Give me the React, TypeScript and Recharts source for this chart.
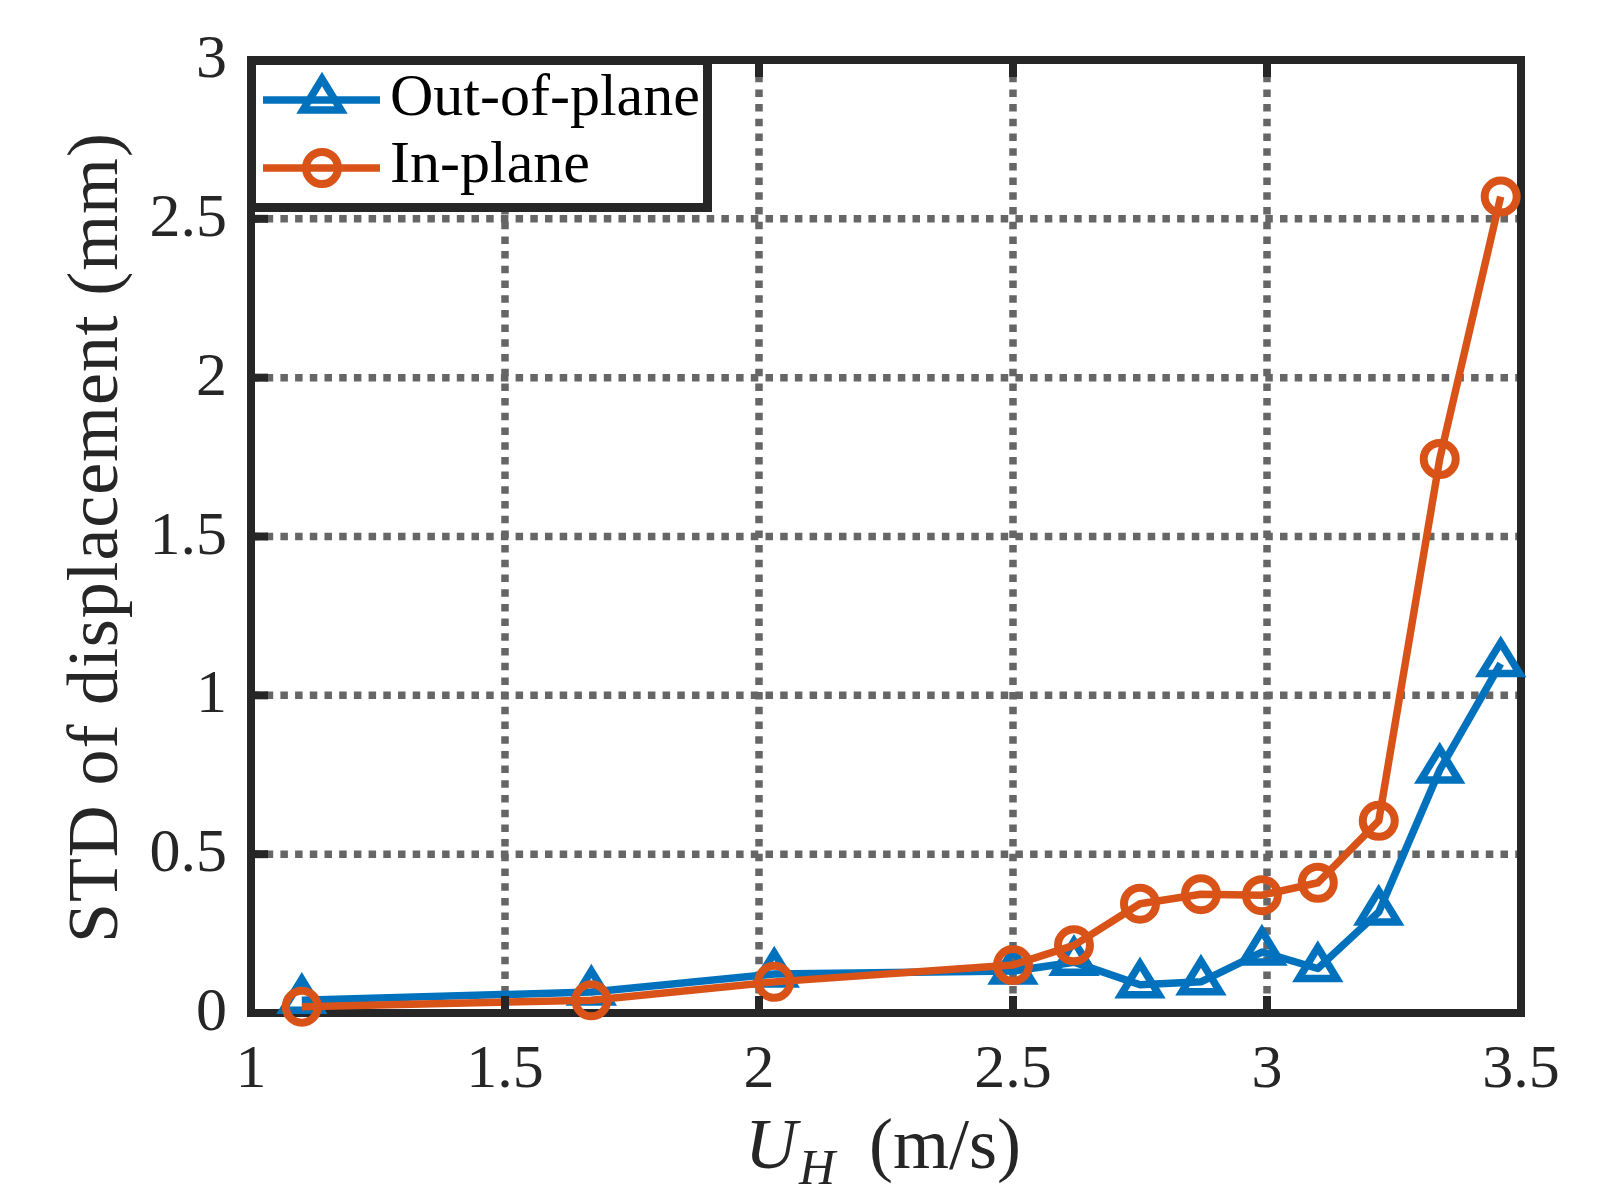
import { LineChart, Line, XAxis, YAxis, CartesianGrid, Legend } from 'recharts';

// wind speed at deck height and std of displacement
const uH = [1.1, 1.67, 2.03, 2.5, 2.62, 2.75, 2.87, 2.99, 3.1, 3.22, 3.34, 3.46];
const outOfPlane = [0.04, 0.066, 0.123, 0.132, 0.16, 0.089, 0.098, 0.192, 0.14, 0.318, 0.765, 1.1];
const inPlane = [0.02, 0.04, 0.098, 0.151, 0.213, 0.344, 0.374, 0.371, 0.41, 0.605, 1.744, 2.57];

const xTicks = [1, 1.5, 2, 2.5, 3, 3.5];
const yTicks = [0, 0.5, 1, 1.5, 2, 2.5, 3];

const data = uH.map((u, i) => ({ u, out: outOfPlane[i], inp: inPlane[i] }));

const BLUE = '#0072BD';
const ORANGE = '#D95319';
const FRAME = '#262626';
const FONT = '"Liberation Serif", "DejaVu Serif", serif';
const TICK_LEN = 17;

const Triangle = ({ cx, cy, stroke }: any) => {
  if (cx == null || cy == null) return null;
  return (
    <path
      d={`M${cx},${cy - 21} L${cx + 19},${cy + 10} L${cx - 19},${cy + 10} Z`}
      fill="none"
      stroke={stroke}
      strokeWidth={7.5}
    />
  );
};

const Ring = ({ cx, cy, stroke }: any) => {
  if (cx == null || cy == null) return null;
  return <circle cx={cx} cy={cy} r={16} fill="none" stroke={stroke} strokeWidth={8} />;
};

const BottomTick = ({ x, y, payload }: any) => (
  <g>
    <line x1={x} y1={y} x2={x} y2={y - TICK_LEN} stroke={FRAME} strokeWidth={8} />
    <text x={x} y={y + 74} textAnchor="middle" fontSize={62} fill={FRAME} fontFamily={FONT}>
      {payload.value}
    </text>
  </g>
);

const TopTick = ({ x, y }: any) => (
  <line x1={x} y1={y} x2={x} y2={y + TICK_LEN} stroke={FRAME} strokeWidth={8} />
);

const LeftTick = ({ x, y, payload }: any) => (
  <g>
    <line x1={x} y1={y} x2={x + TICK_LEN} y2={y} stroke={FRAME} strokeWidth={8} />
    <text x={x - 24} y={y + 17} textAnchor="end" fontSize={62} fill={FRAME} fontFamily={FONT}>
      {payload.value}
    </text>
  </g>
);

const RightTick = ({ x, y }: any) => (
  <line x1={x} y1={y} x2={x - TICK_LEN} y2={y} stroke={FRAME} strokeWidth={8} />
);

const XLabel = () => (
  <text x={745} y={1168} fontSize={72} fill={FRAME} fontFamily={FONT}>
    <tspan fontStyle="italic">U</tspan>
    <tspan fontStyle="italic" fontSize={50} dy={16} dx={2}>H</tspan>
    <tspan dy={-16} dx={34}>(m/s)</tspan>
  </text>
);

const YLabel = () => (
  <text
    x={117}
    y={538}
    transform="rotate(-90, 117, 538)"
    textAnchor="middle"
    fontSize={72}
    fill={FRAME}
    fontFamily={FONT}
    textLength={810}
    lengthAdjust="spacing"
  >
    STD of displacement (mm)
  </text>
);

const LegendBox = () => (
  <svg width={466} height={157} style={{ display: 'block' }}>
    <rect x={4.5} y={4.5} width={456} height={147} fill="#fff" stroke={FRAME} strokeWidth={9} />
    <line x1={16} y1={44} x2={133} y2={44} stroke={BLUE} strokeWidth={7.5} />
    <Triangle cx={75} cy={44} stroke={BLUE} />
    <text x={143} y={59} fontSize={60} fontFamily={FONT} fill="#000">Out-of-plane</text>
    <line x1={16} y1={112} x2={133} y2={112} stroke={ORANGE} strokeWidth={7.5} />
    <Ring cx={75} cy={112} stroke={ORANGE} />
    <text x={143} y={126} fontSize={60} fontFamily={FONT} fill="#000">In-plane</text>
  </svg>
);

export default function App() {
  return (
    <div style={{ width: 1608, height: 1201, background: '#fff' }}>
      <style>{'body{margin:0;background:#fff}'}</style>
      <LineChart
        width={1608}
        height={1201}
        data={data}
        margin={{ top: 59, right: 86, bottom: 8, left: 51 }}
        style={{ fontFamily: FONT }}
      >
        <CartesianGrid
          xAxisId="b"
          yAxisId="l"
          stroke="#666666"
          strokeWidth={7.5}
          strokeDasharray="7.5 7.2"
        />
        <XAxis
          xAxisId="b"
          dataKey="u"
          type="number"
          domain={[1, 3.5]}
          ticks={xTicks}
          interval={0}
          height={180}
          tickSize={0}
          tickMargin={0}
          tickLine={false}
          tick={(p: any) => <BottomTick {...p} />}
          axisLine={{ stroke: FRAME, strokeWidth: 8, strokeLinecap: 'square' }}
          label={<XLabel />}
        />
        <XAxis
          xAxisId="t"
          orientation="top"
          dataKey="u"
          type="number"
          domain={[1, 3.5]}
          ticks={xTicks}
          interval={0}
          height={1}
          tickSize={0}
          tickMargin={0}
          tickLine={false}
          tick={(p: any) => <TopTick {...p} />}
          axisLine={{ stroke: FRAME, strokeWidth: 8, strokeLinecap: 'square' }}
        />
        <YAxis
          yAxisId="l"
          type="number"
          domain={[0, 3]}
          ticks={yTicks}
          interval={0}
          width={200}
          tickSize={0}
          tickMargin={0}
          tickLine={false}
          tick={(p: any) => <LeftTick {...p} />}
          axisLine={{ stroke: FRAME, strokeWidth: 8, strokeLinecap: 'square' }}
          label={<YLabel />}
        />
        <YAxis
          yAxisId="r"
          orientation="right"
          type="number"
          domain={[0, 3]}
          ticks={yTicks}
          interval={0}
          width={1}
          tickSize={0}
          tickMargin={0}
          tickLine={false}
          tick={(p: any) => <RightTick {...p} />}
          axisLine={{ stroke: FRAME, strokeWidth: 8, strokeLinecap: 'square' }}
        />
        <Legend
          verticalAlign="middle"
          align="center"
          layout="horizontal"
          content={() => <LegendBox />}
          wrapperStyle={{ position: 'absolute', left: 247, top: 56, width: 466, height: 157 }}
        />
        <Line
          xAxisId="b"
          yAxisId="l"
          type="linear"
          dataKey="out"
          name="Out-of-plane"
          stroke={BLUE}
          strokeWidth={7.5}
          strokeLinejoin="round"
          dot={(p: any) => <Triangle key={`t-${p.index}`} cx={p.cx} cy={p.cy} stroke={BLUE} />}
          activeDot={false}
          isAnimationActive={false}
          zIndex={600}
        />
        <Line
          xAxisId="b"
          yAxisId="l"
          type="linear"
          dataKey="inp"
          name="In-plane"
          stroke={ORANGE}
          strokeWidth={7.5}
          strokeLinejoin="round"
          dot={(p: any) => <Ring key={`r-${p.index}`} cx={p.cx} cy={p.cy} stroke={ORANGE} />}
          activeDot={false}
          isAnimationActive={false}
          zIndex={601}
        />
      </LineChart>
    </div>
  );
}
